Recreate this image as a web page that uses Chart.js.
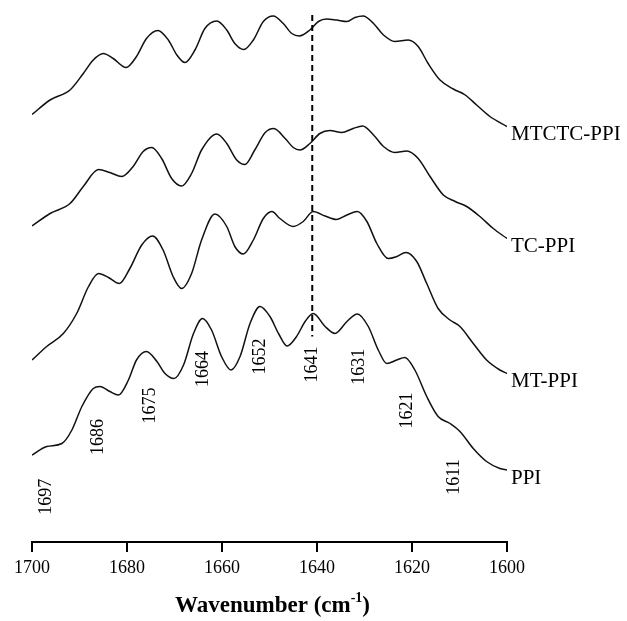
<!DOCTYPE html>
<html>
<head>
<meta charset="utf-8">
<script src="https://cdn.jsdelivr.net/npm/chart.js@4.4.1/dist/chart.umd.min.js"></script>
<style>
  html, body { margin: 0; padding: 0; background: #fff; }
  #wrap { width: 627px; height: 621px; }
</style>
</head>
<body>
<div id="wrap"><canvas id="ftir" width="627" height="621"></canvas></div>
<script>
// stacked amide I spectra (absorbance, offset per sample)
const seriesNames = ['MTCTC-PPI', 'TC-PPI', 'MT-PPI', 'PPI'];

const mtctcWn  = [1700, 1696.2, 1692.0, 1689.2, 1687.1, 1685.0, 1682.9, 1680.2, 1678.0, 1675.9, 1673.5, 1671.3, 1669.5, 1667.8, 1665.7, 1663.6, 1661.1, 1659.0, 1657.3, 1655.4, 1653.4, 1651.3, 1649.2, 1647.1, 1645.3, 1643.7, 1641.5, 1639.7, 1638.0, 1635.9, 1633.7, 1632.0, 1630.3, 1628.1, 1626.0, 1623.6, 1620.8, 1618.7, 1616.6, 1614.1, 1611.3, 1608.8, 1606.4, 1603.6, 1600];
const mtctcAbs = [0.855, 0.884, 0.904, 0.937, 0.964, 0.977, 0.967, 0.949, 0.971, 1.007, 1.023, 1.004, 0.974, 0.959, 0.984, 1.027, 1.042, 1.024, 0.997, 0.985, 1.004, 1.041, 1.052, 1.037, 1.017, 1.012, 1.024, 1.041, 1.046, 1.044, 1.041, 1.049, 1.052, 1.037, 1.014, 1.001, 1.004, 0.991, 0.957, 0.924, 0.906, 0.894, 0.874, 0.851, 0.831];

const tcWn  = [1700, 1696.2, 1692.0, 1689.2, 1686.0, 1683.6, 1681.1, 1678.7, 1676.6, 1674.8, 1672.7, 1670.6, 1668.5, 1666.4, 1664.3, 1661.1, 1659.0, 1656.9, 1655.2, 1653.1, 1650.9, 1649.1, 1646.7, 1645.0, 1643.6, 1641.5, 1639.4, 1637.3, 1634.8, 1632.4, 1630.4, 1628.1, 1626.0, 1623.6, 1621.1, 1618.7, 1616.2, 1613.4, 1610.9, 1608.5, 1605.7, 1602.9, 1600];
const tcAbs = [0.632, 0.657, 0.677, 0.711, 0.745, 0.739, 0.731, 0.751, 0.781, 0.789, 0.767, 0.727, 0.712, 0.737, 0.784, 0.816, 0.797, 0.764, 0.755, 0.784, 0.819, 0.827, 0.807, 0.789, 0.784, 0.797, 0.817, 0.823, 0.819, 0.827, 0.832, 0.814, 0.791, 0.779, 0.782, 0.767, 0.731, 0.694, 0.681, 0.671, 0.651, 0.627, 0.607];

const mtWn  = [1700, 1696.9, 1693.4, 1690.6, 1688.1, 1686.0, 1683.9, 1681.6, 1679.4, 1676.9, 1674.6, 1672.4, 1670.3, 1668.5, 1666.4, 1664.3, 1661.5, 1659.0, 1657.3, 1655.5, 1653.4, 1651.3, 1649.5, 1647.8, 1645.0, 1642.9, 1640.8, 1638.3, 1635.9, 1633.7, 1631.5, 1629.5, 1627.4, 1625.0, 1623.2, 1621.3, 1619.0, 1616.9, 1614.5, 1612.0, 1609.9, 1607.1, 1604.3, 1601.5, 1600];
const mtAbs = [0.364, 0.391, 0.417, 0.457, 0.511, 0.537, 0.529, 0.517, 0.547, 0.594, 0.612, 0.584, 0.531, 0.507, 0.537, 0.604, 0.656, 0.631, 0.591, 0.576, 0.604, 0.647, 0.661, 0.647, 0.631, 0.641, 0.661, 0.652, 0.645, 0.654, 0.661, 0.641, 0.597, 0.567, 0.571, 0.579, 0.561, 0.517, 0.467, 0.444, 0.431, 0.397, 0.364, 0.344, 0.337];

const ppiWn  = [1700, 1696.9, 1693.7, 1691.6, 1689.5, 1687.1, 1685.7, 1683.6, 1681.8, 1679.7, 1678.0, 1675.9, 1673.7, 1672.0, 1670.1, 1668.1, 1666.0, 1664.1, 1662.2, 1660.1, 1658.1, 1656.2, 1654.1, 1652.0, 1649.9, 1648.1, 1646.3, 1644.3, 1642.5, 1640.8, 1638.3, 1636.2, 1633.7, 1631.5, 1629.2, 1627.1, 1625.3, 1623.2, 1621.5, 1619.4, 1616.9, 1614.5, 1612.0, 1609.9, 1607.1, 1604.3, 1601.5, 1600];
const ppiAbs = [0.174, 0.191, 0.197, 0.224, 0.271, 0.307, 0.311, 0.301, 0.294, 0.324, 0.364, 0.381, 0.361, 0.337, 0.327, 0.354, 0.417, 0.447, 0.424, 0.371, 0.344, 0.371, 0.437, 0.471, 0.451, 0.417, 0.392, 0.411, 0.441, 0.457, 0.431, 0.417, 0.441, 0.456, 0.431, 0.384, 0.357, 0.364, 0.369, 0.344, 0.291, 0.251, 0.237, 0.221, 0.187, 0.161, 0.147, 0.144];

// peaks marked under the PPI trace, and the dashed guide
const peakWn = [1697, 1686, 1675, 1664, 1652, 1641, 1631, 1621, 1611];
const markerWn = 1641;

const xTicks = [1700, 1680, 1660, 1640, 1620, 1600];

const serif = '"Liberation Serif", "Times New Roman", serif';

function toPoints(wn, abs) {
  return wn.map((w, i) => ({ x: w, y: abs[i] }));
}

// linear lookup on a trace, only used to park the text labels
function absAt(wn, abs, w) {
  for (let i = 0; i < wn.length - 1; i++) {
    if ((wn[i] - w) * (wn[i + 1] - w) <= 0) {
      const t = (w - wn[i]) / (wn[i + 1] - wn[i]);
      return abs[i] + t * (abs[i + 1] - abs[i]);
    }
  }
  return abs[abs.length - 1];
}

const traces = [
  [mtctcWn, mtctcAbs],
  [tcWn, tcAbs],
  [mtWn, mtAbs],
  [ppiWn, ppiAbs]
];

const annotate = {
  id: 'annotate',
  afterDraw(chart) {
    const { ctx, chartArea, scales: { x, y } } = chart;
    ctx.save();
    ctx.fillStyle = '#000';
    ctx.strokeStyle = '#000';

    // dashed line through the 1641 band
    const mx = x.getPixelForValue(markerWn);
    const ppiY = y.getPixelForValue(absAt(ppiWn, ppiAbs, markerWn));
    ctx.lineWidth = 2;
    ctx.setLineDash([6, 4]);
    ctx.beginPath();
    ctx.moveTo(mx, chartArea.top + 3);
    ctx.lineTo(mx, ppiY + 22);
    ctx.stroke();
    ctx.setLineDash([]);

    // sample names at the right-hand end of each trace
    ctx.font = '21px ' + serif;
    ctx.textAlign = 'left';
    ctx.textBaseline = 'middle';
    traces.forEach(([wn, abs], i) => {
      const endY = y.getPixelForValue(abs[abs.length - 1]);
      ctx.fillText(seriesNames[i], chartArea.right + 4, endY + 8);
    });

    // rotated peak positions below the PPI trace
    ctx.font = '18px ' + serif;
    ctx.textAlign = 'right';
    peakWn.forEach(w => {
      const px = x.getPixelForValue(w);
      const py = y.getPixelForValue(absAt(ppiWn, ppiAbs, w)) + 32;
      ctx.save();
      ctx.translate(px, py);
      ctx.rotate(-Math.PI / 2);
      ctx.fillText(String(w), 0, 0);
      ctx.restore();
    });

    // axis title with superscript
    const main = 'Wavenumber (cm', sup = '-1', close = ')';
    ctx.textAlign = 'left';
    ctx.textBaseline = 'alphabetic';
    ctx.font = 'bold 23px ' + serif;
    const w1 = ctx.measureText(main).width;
    const w3 = ctx.measureText(close).width;
    ctx.font = 'bold 14px ' + serif;
    const w2 = ctx.measureText(sup).width;
    const cx = x.getPixelForValue(1650) + 3;
    let tx = cx - (w1 + w2 + w3) / 2;
    const base = 612;
    ctx.font = 'bold 23px ' + serif;
    ctx.fillText(main, tx, base);
    tx += w1;
    ctx.font = 'bold 14px ' + serif;
    ctx.fillText(sup, tx, base - 10);
    tx += w2;
    ctx.font = 'bold 23px ' + serif;
    ctx.fillText(close, tx, base);
    ctx.restore();
  }
};

new Chart(document.getElementById('ftir'), {
  type: 'line',
  data: {
    datasets: traces.map(([wn, abs], i) => ({
      label: seriesNames[i],
      data: toPoints(wn, abs),
      borderColor: '#111',
      borderWidth: 1.5,
      pointRadius: 0,
      fill: false,
      cubicInterpolationMode: 'monotone'
    }))
  },
  options: {
    responsive: false,
    animation: false,
    layout: { padding: { left: 32, right: 120, top: 12, bottom: 0 } },
    plugins: {
      legend: { display: false },
      tooltip: { enabled: false }
    },
    scales: {
      x: {
        type: 'linear',
        reverse: true,
        min: 1600,
        max: 1700,
        afterBuildTicks(scale) {
          scale.ticks = xTicks.map(v => ({ value: v }));
        },
        afterFit(scale) {
          scale.height = 79;
        },
        ticks: {
          color: '#000',
          font: { family: serif, size: 18 },
          padding: 5,
          maxRotation: 0,
          callback: v => String(v)
        },
        grid: {
          drawOnChartArea: false,
          drawTicks: true,
          tickLength: 10,
          color: '#000',
          lineWidth: 2
        },
        border: { display: true, color: '#000', width: 2 }
      },
      y: {
        display: false,
        min: 0,
        max: 1.06
      }
    }
  },
  plugins: [annotate]
});
</script>
</body>
</html>
